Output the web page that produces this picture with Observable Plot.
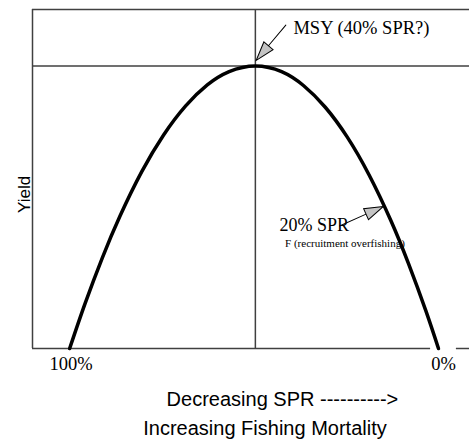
<!DOCTYPE html>
<html><head><meta charset="utf-8">
<script src="https://cdn.jsdelivr.net/npm/d3@7"></script>
<script src="https://cdn.jsdelivr.net/npm/@observablehq/plot@0.6"></script>
<style>body{margin:0;background:#fff} svg{display:block}</style>
</head><body><div id="chart"></div>
<script>
// Yield curve (x: position along SPR axis, 0..100 units; y: relative yield)
const curveX = [8.5, 12, 16, 20, 25, 30, 35, 40, 45, 51, 57, 62, 67, 72, 77, 82, 86, 90, 92.9];
const curveY = [0, 0.158, 0.322, 0.468, 0.626, 0.756, 0.858, 0.933, 0.98, 1, 0.98, 0.931, 0.854, 0.749, 0.615, 0.453, 0.302, 0.134, 0];
const msyX = 51;      // vertical reference line
const msyY = 1;       // horizontal reference line
const topY = 1.2;     // top border
const baselineSegments = [[0, 91.1], [97, 100]];
const tickLabels = ["100%", "0%"];
const tickPos = [8.8, 94.05];
const axisLines = ["Decreasing SPR ---------->", "Increasing Fishing Mortality"];
const axisLinePos = [57.2, 53.2];
const axisLineOffset = [57, 86];
const yLabel = "Yield";
const yLabelPos = 0.48;
const notes = [
  {text: "20% SPR", x: 56.5, y: 0.415, size: 18},
  {text: "MSY (40% SPR?)", x: 59.7, y: 1.115, size: 18.5},
  {text: "F (recruitment overfishing)", x: 57.8, y: 0.36, size: 11}
];
const arrowMSY = {x: 51.2, y: 1.02, angle: 220, length: 46};
const arrowRecruit = {x: 80.3, y: 0.503, angle: 66, length: 48};

const curve = curveX.map((x, i) => ({x, y: curveY[i]}));
const lineColor = "#404040";

const arrowShape = {
  draw(context, l) {
    const hl = 19, hw = 6;
    context.moveTo(0, 0);
    context.lineTo(0, -l + hl);
    context.moveTo(0, -l);
    context.lineTo(-hw, -l + hl);
    context.lineTo(hw, -l + hl);
    context.closePath();
  }
};

const serif = "'Liberation Serif','Times New Roman',serif";
const sans = "'Liberation Sans',Arial,sans-serif";

const arrowMark = a => Plot.vector([a], {x: "x", y: "y", rotate: "angle", length: a.length, anchor: "end", shape: arrowShape,
  stroke: "#000", strokeWidth: 1, fill: "#c4c4c4", strokeLinejoin: "miter"});

const plot = Plot.plot({
  width: 469,
  height: 439,
  marginLeft: 32,
  marginRight: 0,
  marginTop: 9,
  marginBottom: 91,
  x: {domain: [0, 100], axis: null},
  y: {domain: [0, topY], axis: null},
  marks: [
    Plot.ruleX([0], {y1: 0, y2: topY, stroke: lineColor, strokeWidth: 1.5}),
    Plot.ruleX([msyX], {y1: 0, y2: topY, stroke: lineColor, strokeWidth: 1.5}),
    Plot.ruleY([topY, msyY], {x1: 0, x2: 100, stroke: lineColor, strokeWidth: 1.5}),
    Plot.ruleY(baselineSegments, {y: () => 0, x1: d => d[0], x2: d => d[1], stroke: lineColor, strokeWidth: 1.5}),
    Plot.line(curve, {x: "x", y: "y", curve: "natural", stroke: "#000", strokeWidth: 3.5}),
    arrowMark(arrowMSY),
    arrowMark(arrowRecruit),
    ...notes.map(n => Plot.text([n], {x: "x", y: "y", text: "text", textAnchor: "start", lineAnchor: "bottom",
      fontFamily: serif, fontSize: n.size, fill: "#000"})),
    Plot.text(tickLabels, {x: (d, i) => tickPos[i], y: () => 0, text: d => d, lineAnchor: "bottom", dy: 21,
      fontFamily: serif, fontSize: 18.5, fill: "#000"}),
    ...axisLines.map((t, i) => Plot.text([t], {x: () => axisLinePos[i], frameAnchor: "bottom", text: d => d,
      lineAnchor: "bottom", dy: axisLineOffset[i], fontFamily: sans, fontSize: 20, fill: "#000"})),
    Plot.text([yLabel], {frameAnchor: "left", y: () => yLabelPos, text: d => d, rotate: -90, lineAnchor: "bottom",
      dx: -3, fontFamily: sans, fontSize: 17, fill: "#000"})
  ]
});
document.getElementById("chart").appendChild(plot);
</script>
</body></html>
